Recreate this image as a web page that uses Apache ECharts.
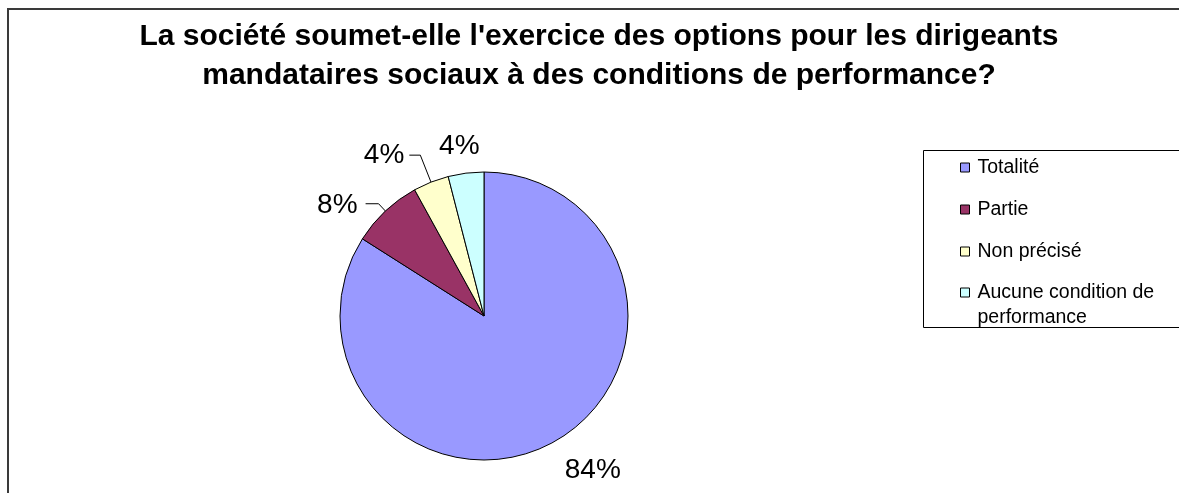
<!DOCTYPE html>
<html>
<head>
<meta charset="utf-8">
<script src="https://cdn.jsdelivr.net/npm/echarts@6/dist/echarts.min.js"></script>
<style>
  html, body { margin: 0; padding: 0; background: #fff; }
  #chart { width: 1179px; height: 493px; }
</style>
</head>
<body>
<div id="chart"></div>
<script>
// camembert : conditions de performance
const titleLines = [
  "La société soumet-elle l'exercice des options pour les dirigeants",
  'mandataires sociaux à des conditions de performance?'
]
const categories = ['Totalité', 'Partie', 'Non précisé', 'Aucune condition de performance']
const values = [84, 8, 4, 4]
const colors = ['#9999FF', '#993366', '#FFFFCC', '#CCFFFF']

const myChart = echarts.init(document.getElementById('chart'))

// longueur des traits d'étiquette par part
const lineSetup = [
  { show: false, length: 32, length2: 0 },
  { show: true, length: 10, length2: 13 },
  { show: true, length: 29, length2: 11 },
  { show: false, length: 27, length2: 0 }
]
const labelShift = [[-9, 0], [-3, 2], [0, 0], [22, 0]]

const pieData = categories.map((name, i) => ({
  name: name,
  value: values[i],
  itemStyle: { color: colors[i] },
  labelLine: lineSetup[i]
}))

const legendText = {
  fontFamily: 'Liberation Sans, Arial',
  fontSize: 19.5,
  lineHeight: 25,
  color: '#000',
  padding: [0, 0, 0, 3]
}

const options = {
  backgroundColor: '#fff',
  animation: false,
  title: {
    text: titleLines.join('\n'),
    left: 594,
    textAlign: 'center',
    top: 12,
    textStyle: {
      fontFamily: 'Liberation Sans, Arial',
      fontWeight: 'bold',
      fontSize: 30,
      lineHeight: 39,
      color: '#000'
    }
  },
  legend: [
    {
      orient: 'vertical',
      left: 955,
      top: 150,
      itemWidth: 9,
      itemHeight: 9,
      itemGap: 17,
      icon: 'rect',
      itemStyle: { borderColor: '#000', borderWidth: 1 },
      textStyle: legendText,
      data: categories.slice(0, 3)
    },
    {
      // libellé sur deux lignes : carré aligné sur la première ligne
      orient: 'vertical',
      left: 955,
      top: 275,
      itemWidth: 9,
      itemHeight: 34,
      icon: 'path://M0 0H9V9H0Z M0 34',
      itemStyle: { borderColor: '#000', borderWidth: 1 },
      formatter: name => name.replace('de performance', 'de\nperformance'),
      textStyle: legendText,
      data: categories.slice(3)
    }
  ],
  graphic: [
    {
      type: 'rect',
      shape: { x: 8, y: 9, width: 1200, height: 520 },
      style: { fill: 'none', stroke: '#3a3a3a', lineWidth: 2 },
      silent: true
    },
    {
      type: 'rect',
      shape: { x: 923.5, y: 150.5, width: 300, height: 177 },
      style: { fill: 'none', stroke: '#000', lineWidth: 1 },
      silent: true
    }
  ],
  series: [{
    type: 'pie',
    center: [484, 316],
    radius: [0, 144],
    startAngle: 90,
    clockwise: true,
    avoidLabelOverlap: false,
    itemStyle: { borderColor: '#000', borderWidth: 1 },
    label: {
      show: true,
      position: 'outside',
      formatter: '{d}%',
      fontFamily: 'Liberation Sans, Arial',
      fontSize: 28,
      color: '#000',
      distanceToLabelLine: 5
    },
    labelLine: {
      lineStyle: { color: '#000', width: 1 }
    },
    labelLayout: params => ({
      dx: labelShift[params.dataIndex][0],
      dy: labelShift[params.dataIndex][1]
    }),
    emphasis: { disabled: true },
    data: pieData
  }]
}

myChart.setOption(options)
</script>
</body>
</html>
